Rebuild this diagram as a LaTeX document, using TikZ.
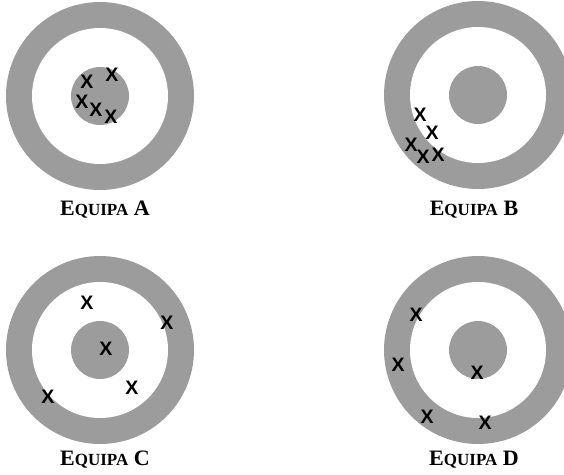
\documentclass[tikz,border=0pt]{standalone}
\usepackage{fontspec}
\newfontfamily\marcafont{Liberation Sans}
\newfontfamily\rotulofont{Liberation Serif}
\usetikzlibrary{positioning}

\definecolor{cinzaalvo}{RGB}{156,156,156}

\begin{document}
\begin{tikzpicture}[
        x=1pt, y=-1pt,
        % anel exterior e centro do alvo
        anel/.style={fill=cinzaalvo},
        % marcas dos tiros
        tiro/.style={inner sep=0pt, font=\marcafont\bfseries\fontsize{19.5}{19.5}\selectfont},
        % nome de cada equipa
        rotulo/.style={inner sep=0pt, font=\rotulofont\bfseries\fontsize{22}{22}\selectfont}
    ]
        \clip (0,0) rectangle (564,474);

        % Centros dos alvos
        \coordinate (alvoA) at (100,96);
        \coordinate (alvoB) at (478,95);
        \coordinate (alvoC) at (100,350);
        \coordinate (alvoD) at (478,350);

        % Alvos
        \foreach \c in {alvoA,alvoB,alvoC,alvoD}{
            \fill[anel] (\c) circle (94);
            \fill[white] (\c) circle (68);
            \fill[anel] (\c) circle (29);
        }

        % Nomes
        \node[rotulo] (nomeA) at (105,210) {E{\fontsize{17}{17}\selectfont QUIPA} A};
        \node[rotulo] (nomeB) at (474,210) {E{\fontsize{17}{17}\selectfont QUIPA} B};
        \node[rotulo] (nomeC) at (105,460) {E{\fontsize{17}{17}\selectfont QUIPA} C};
        \node[rotulo] (nomeD) at (474,460) {E{\fontsize{17}{17}\selectfont QUIPA} D};

        % Tiros da equipa A
        \node[tiro] (a1) at (87,82) {X};
        \node[tiro] (a2) at (112,75) {X};
        \node[tiro] (a3) at (82,102) {X};
        \node[tiro] (a4) at (96,110) {X};
        \node[tiro] (a5) at (111,117) {X};

        % Tiros da equipa B
        \node[tiro] (b1) at (420,115) {X};
        \node[tiro] (b2) at (432,133) {X};
        \node[tiro] (b3) at (411,145) {X};
        \node[tiro] (b4) at (423,157) {X};
        \node[tiro] (b5) at (438,155) {X};

        % Tiros da equipa C
        \node[tiro] (c1) at (87,303) {X};
        \node[tiro] (c2) at (167,323) {X};
        \node[tiro] (c3) at (106,349) {X};
        \node[tiro] (c4) at (132,388) {X};
        \node[tiro] (c5) at (48,397) {X};

        % Tiros da equipa D
        \node[tiro] (d1) at (416,315) {X};
        \node[tiro] (d2) at (398,365) {X};
        \node[tiro] (d3) at (477,373) {X};
        \node[tiro] (d4) at (427,417) {X};
        \node[tiro] (d5) at (485,423) {X};
    \end{tikzpicture}
\end{document}
